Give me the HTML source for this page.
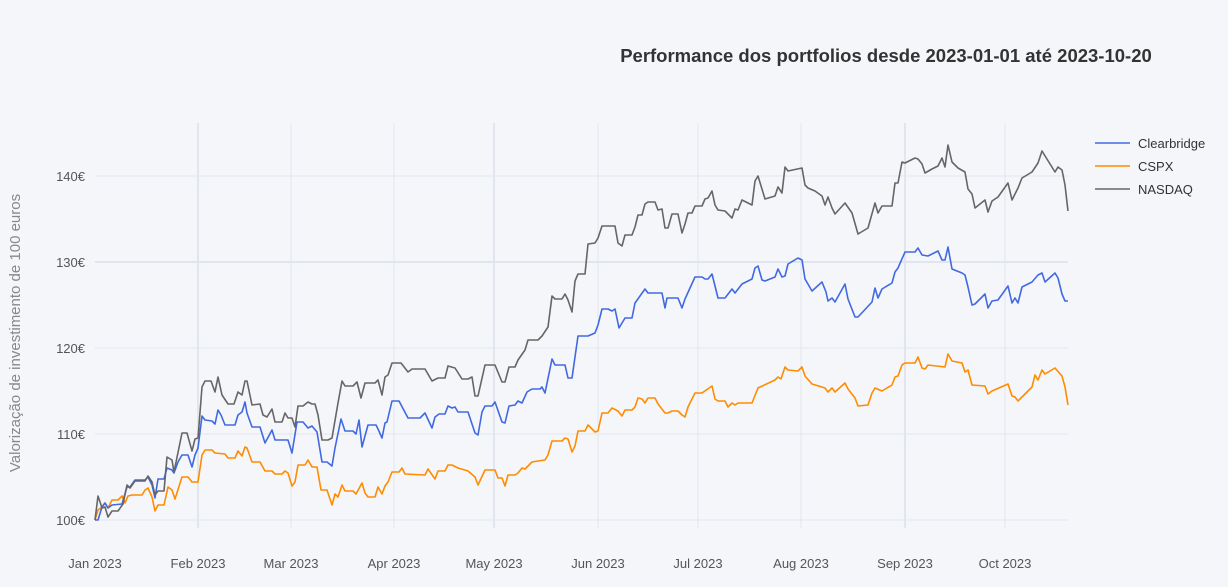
<!DOCTYPE html>
<html><head><meta charset="utf-8"><style>
html,body{margin:0;padding:0;background:#f5f6fa;}
svg{display:block;font-family:"Liberation Sans",sans-serif;}
</style></head><body>
<svg width="1228" height="587" viewBox="0 0 1228 587" xmlns="http://www.w3.org/2000/svg">
<rect width="1228" height="587" fill="#f5f6fa"/>
<g stroke="#e1e5ed" stroke-width="1">
<line x1="95" y1="176" x2="1068" y2="176"/>
<line x1="95" y1="262" x2="1068" y2="262" stroke-width="2"/>
<line x1="95" y1="348" x2="1068" y2="348"/>
<line x1="95" y1="434" x2="1068" y2="434"/>
<line x1="95" y1="520" x2="1068" y2="520"/>
<line x1="198" y1="123" x2="198" y2="528" stroke-width="2"/>
<line x1="291" y1="123" x2="291" y2="528"/>
<line x1="394" y1="123" x2="394" y2="528"/>
<line x1="494" y1="123" x2="494" y2="528" stroke-width="2"/>
<line x1="598" y1="123" x2="598" y2="528"/>
<line x1="698" y1="123" x2="698" y2="528"/>
<line x1="801" y1="123" x2="801" y2="528"/>
<line x1="905" y1="123" x2="905" y2="528" stroke-width="2"/>
<line x1="1005" y1="123" x2="1005" y2="528"/>
</g>
<g font-size="13" fill="#555" text-anchor="end">
<text x="85" y="181">140€</text><text x="85" y="267">130€</text><text x="85" y="353">120€</text><text x="85" y="439">110€</text><text x="85" y="525">100€</text>
</g>
<g font-size="13" fill="#555" text-anchor="middle">
<text x="95" y="568">Jan 2023</text><text x="198" y="568">Feb 2023</text><text x="291" y="568">Mar 2023</text><text x="394" y="568">Apr 2023</text><text x="494" y="568">May 2023</text><text x="598" y="568">Jun 2023</text><text x="698" y="568">Jul 2023</text><text x="801" y="568">Aug 2023</text><text x="905" y="568">Sep 2023</text><text x="1005" y="568">Oct 2023</text>
</g>
<text transform="translate(20,333) rotate(-90)" font-size="15" fill="#888" text-anchor="middle">Valorização de investimento de 100 euros</text>
<text x="886" y="62" font-size="18.5" font-weight="bold" fill="#333" text-anchor="middle">Performance dos portfolios desde 2023-01-01 até 2023-10-20</text>
<g fill="none" stroke-width="1.6" stroke-linejoin="round">
<polyline stroke="#ff8c00" points="95,520 98,510 102,507 105,503 108,508 112,500 118,500 122,496 125,503 128,496 132,495 142,495 145,490 148,488 152,497 155,511 158,505 164,505 168,487 172,490 175,499 182,477 188,477 192,482 198,482 202,455 205,450 212,450 215,453 225,454 228,458 235,458 238,451 242,456 245,447 247,448 252,462 260,462 265,471 272,471 275,474 282,474 285,471 288,473 292,486 295,482 298,465 305,465 308,460 312,467 317,467 321,490 327,490 332,505 335,494 338,497 342,485 345,491 353,491 356,494 362,483 365,493 368,497 375,497 378,487 382,494 385,486 388,482 392,472 399,472 402,468 405,474 425,475 428,469 435,479 438,471 445,471 448,465 452,465 458,468 468,471 475,477 478,485 485,470 495,470 498,478 502,478 505,486 508,475 515,475 518,473 522,468 525,469 532,462 538,461 545,460 548,455 552,441 562,441 565,438 568,439 572,452 575,446 578,431 585,431 588,425 595,432 598,431 602,413 608,413 612,408 618,411 622,416 625,410 632,410 635,407 638,398 642,399 645,403 648,398 655,398 658,404 665,413 668,413 672,411 678,411 682,415 685,417 688,407 695,393 702,393 712,386 715,399 718,401 725,401 728,407 732,403 735,405 738,403 752,403 758,388 775,380 778,377 781,379 785,367 788,370 798,371 802,367 805,376 812,384 825,388 828,392 832,388 835,392 845,383 848,389 855,398 858,406 868,405 872,393 875,388 882,391 892,385 895,377 898,376 902,365 905,363 915,363 918,357 922,368 925,369 928,365 945,367 948,354 952,361 962,363 965,372 968,370 972,385 985,386 988,394 992,391 1008,384 1012,396 1015,397 1018,401 1032,387 1035,375 1038,380 1042,370 1045,374 1055,368 1062,376 1065,387 1068,405"/>
<polyline stroke="#4169e1" points="95,520 98,520 102,507 105,503 108,508 112,505 122,504 127,487 130,487 135,480 145,480 148,477 152,485 155,498 158,479 164,479 167,468 172,470 174,473 178,462 182,455 188,455 192,467 195,455 198,448 202,416 205,420 212,421 215,424 218,410 221,415 225,425 235,425 238,415 242,412 245,402 247,413 252,427 260,427 265,443 272,430 275,440 288,440 292,453 297,422 303,422 308,428 312,426 317,432 322,462 327,462 332,466 335,448 341,419 345,431 353,431 356,434 359,420 362,447 368,425 376,425 378,429 382,438 385,423 387,422 392,401 399,401 408,418 420,418 425,413 432,428 435,417 439,414 445,414 448,406 452,408 455,407 458,412 468,412 475,433 478,435 482,412 485,406 492,406 495,402 502,422 505,423 509,406 515,405 518,401 522,403 527,392 532,389 540,389 542,387 545,393 552,359 555,365 565,365 568,378 572,378 578,336 588,336 595,333 598,325 602,309 608,309 612,311 615,309 619,328 625,318 632,318 635,303 645,289 648,293 662,293 665,308 667,298 678,298 682,308 685,299 690,288 695,277 702,277 705,279 708,279 712,274 718,298 725,298 732,289 735,293 742,284 752,279 755,268 758,266 762,280 765,281 775,277 778,269 782,277 785,276 788,264 798,258 802,260 805,279 812,291 822,282 826,292 828,301 832,298 835,302 845,284 848,299 855,317 858,317 872,302 875,288 878,298 882,289 892,283 895,272 898,268 905,252 915,252 918,248 922,255 928,256 938,251 942,260 945,260 948,247 952,269 962,273 965,275 968,287 972,305 975,304 985,294 988,308 992,301 998,300 1008,286 1012,303 1015,298 1018,303 1022,287 1032,282 1038,275 1042,273 1045,282 1055,273 1058,278 1062,294 1065,301 1068,301"/>
<polyline stroke="#666" points="95,520 98,496 102,508 105,507 108,517 112,511 118,511 123,504 127,485 130,488 135,481 145,481 148,476 152,482 155,495 158,491 164,491 167,457 172,460 174,472 182,433 187,433 192,451 195,439 198,438 202,387 205,381 211,381 215,392 218,377 222,395 228,404 234,404 238,392 242,395 245,381 247,381 252,405 260,404 263,415 267,417 272,409 275,422 282,422 285,413 288,418 292,418 295,427 298,406 303,406 308,402 312,404 315,404 318,415 322,440 328,440 332,438 338,403 342,381 345,386 353,386 357,382 361,398 365,383 375,383 378,380 382,395 385,377 388,375 392,363 401,363 408,372 412,369 425,369 432,381 438,378 445,378 448,366 455,368 462,379 468,379 472,377 475,396 478,396 485,365 495,365 502,382 505,382 509,367 515,367 518,360 525,350 528,340 538,340 542,336 548,327 552,296 555,299 562,299 565,294 568,300 572,312 575,281 578,274 585,274 588,244 595,243 598,238 602,226 615,226 618,243 622,246 625,235 632,235 635,227 638,215 642,215 645,204 648,202 655,202 658,210 662,209 665,228 668,228 672,214 678,214 682,233 685,224 688,213 692,213 695,206 702,206 705,199 708,198 712,191 715,205 718,210 725,211 732,218 735,209 738,210 742,200 752,205 755,181 758,176 765,199 775,196 778,187 782,193 785,167 788,171 802,168 805,185 808,188 815,191 822,196 825,205 828,197 832,208 835,214 845,203 852,213 858,234 868,228 875,203 878,213 882,206 892,206 895,183 898,183 902,162 905,163 915,158 918,159 922,164 925,173 932,169 938,166 942,158 945,167 948,145 952,162 958,168 965,172 968,189 972,194 975,208 985,200 988,212 992,201 998,197 1008,183 1012,200 1018,188 1022,178 1032,172 1038,163 1042,151 1055,172 1058,167 1062,170 1065,185 1068,211"/>
</g>
<g stroke-width="1.6">
<line x1="1095" y1="143" x2="1130" y2="143" stroke="#4169e1"/>
<line x1="1095" y1="166" x2="1130" y2="166" stroke="#ff8c00"/>
<line x1="1095" y1="189" x2="1130" y2="189" stroke="#666"/>
</g>
<g font-size="13" fill="#333">
<text x="1138" y="148">Clearbridge</text><text x="1138" y="171">CSPX</text><text x="1138" y="194">NASDAQ</text>
</g>
</svg>
</body></html>
